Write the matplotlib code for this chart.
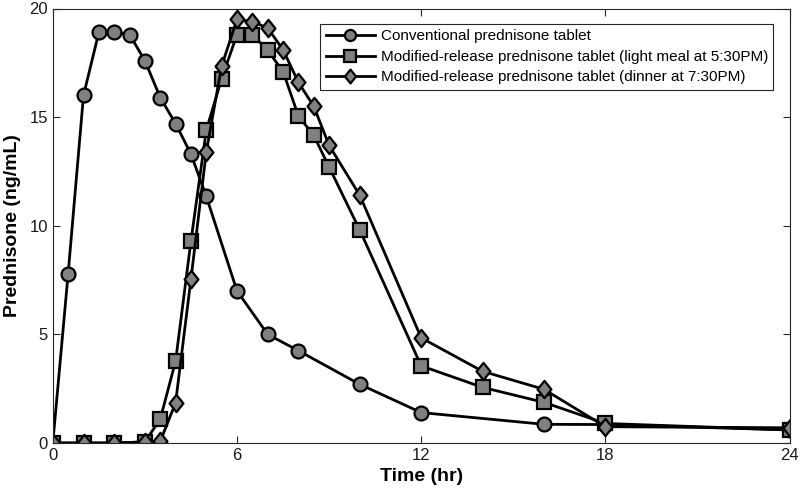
import matplotlib
matplotlib.use("Agg")
import matplotlib.pyplot as plt
from matplotlib import font_manager
from matplotlib.path import Path

fams = {f.name for f in font_manager.fontManager.ttflist}
narrow = 'Liberation Sans Narrow' if 'Liberation Sans Narrow' in fams else 'Liberation Sans'

t_conv = [0, 0.5, 1, 1.5, 2, 2.5, 3, 3.5, 4, 4.5, 5, 6, 7, 8, 10, 12, 16, 18, 24]
y_conv = [0, 7.8, 16.0, 18.9, 18.9, 18.8, 17.6, 15.9, 14.7, 13.3, 11.35, 7.0, 5.0, 4.25, 2.7, 1.4, 0.86, 0.85, 0.6]

t_mr = [0, 1, 2, 3, 3.5, 4, 4.5, 5, 5.5, 6, 6.5, 7, 7.5, 8, 8.5, 9, 10, 12, 14, 16, 18, 24]
y_light = [0, 0, 0, 0.05, 1.1, 3.77, 9.3, 14.4, 16.77, 18.8, 18.8, 18.07, 17.1, 15.05, 14.16, 12.7, 9.8, 3.55, 2.56, 1.87, 0.9, 0.6]
y_dinner = [0, 0, 0, 0.05, 0.08, 1.85, 7.55, 13.4, 17.35, 19.5, 19.4, 19.1, 18.1, 16.6, 15.5, 13.7, 11.4, 4.84, 3.3, 2.47, 0.75, 0.7]

labels = ['Conventional prednisone tablet',
          'Modified-release prednisone tablet (light meal at 5:30PM)',
          'Modified-release prednisone tablet (dinner at 7:30PM)']

diamond = Path([(0, 1), (0.8, 0), (0, -1), (-0.8, 0), (0, 1)],
               [Path.MOVETO, Path.LINETO, Path.LINETO, Path.LINETO, Path.CLOSEPOLY])

fig = plt.figure(figsize=(8, 5), dpi=100)
ax = fig.add_axes([0.066, 0.114, 0.921, 0.869])

kw = dict(color='black', lw=2, markerfacecolor='#808080', markeredgecolor='black', markeredgewidth=1.6)
ax.plot(t_conv, y_conv, marker='o', markersize=10, label=labels[0], **kw)
ax.plot(t_mr, y_light, marker='s', markersize=10.5, label=labels[1], **kw)
ax.plot(t_mr, y_dinner, marker=diamond, markersize=12.5, label=labels[2], **kw)

ax.set_xlim(0, 24)
ax.set_ylim(0, 20)
ax.set_xticks([0, 6, 12, 18, 24])
ax.set_yticks([0, 5, 10, 15, 20])
ax.tick_params(direction='in', top=True, right=True, length=5, width=0.8, colors='#262626',
               labelsize=12, labelcolor='#1a1a1a')
for lab in ax.get_xticklabels() + ax.get_yticklabels():
    lab.set_fontfamily(narrow)
for s in ax.spines.values():
    s.set_color('#262626')
    s.set_linewidth(0.8)

ax.set_xlabel('Time (hr)', fontsize=14, fontweight='bold', family=narrow, labelpad=4)
ax.set_ylabel('Prednisone (ng/mL)', fontsize=14, fontweight='bold', family='Liberation Sans', labelpad=6)

leg = ax.legend(loc='upper right', bbox_to_anchor=(0.978, 0.964), borderaxespad=0, fancybox=False,
                framealpha=1, edgecolor='#262626', prop={'family': 'Liberation Sans', 'size': 11},
                handlelength=3.2, borderpad=0.35, labelspacing=0.42, handletextpad=0.4)
leg.get_frame().set_linewidth(0.8)
for h in leg.legend_handles:
    h.set_markersize(h.get_markersize() * 0.8)

fig.savefig('out.png', dpi=100)
